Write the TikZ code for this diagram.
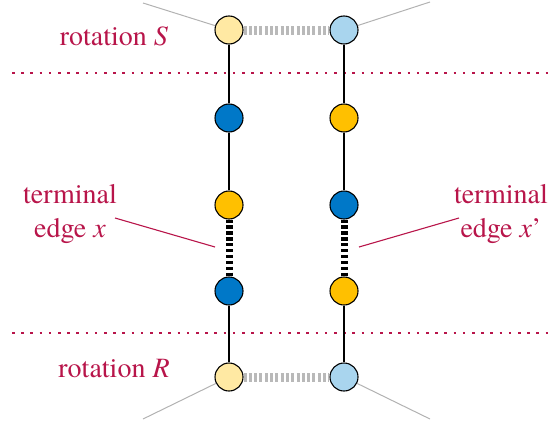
\documentclass[tikz,border=0pt]{standalone}
\usepackage{fontspec}
\setmainfont{TeX Gyre Termes}
\begin{document}
\begin{tikzpicture}[x=1pt,y=-1pt,
  vtx/.style={circle,draw=black,line width=1.1pt,minimum size=28pt,inner sep=0pt},
  ly/.style={vtx,fill=lyellow}, lb/.style={vtx,fill=lblue},
  db/.style={vtx,fill=dblue}, gd/.style={vtx,fill=gold},
  lab/.style={text=crim,font=\fontsize{28}{34}\selectfont,align=center,inner sep=0pt},
  sep/.style={crim,line width=2.6pt,dash pattern=on 2.6pt off 6.6pt},
  term/.style={black,line width=7pt,dash pattern=on 3.3pt off 2.6pt},
  rot/.style={gray!55,line width=9pt,dash pattern=on 3pt off 2.3pt},
  leg/.style={gray!60,line width=1pt}]
\definecolor{lyellow}{HTML}{FFE9A3}
\definecolor{lblue}{HTML}{A9D5EE}
\definecolor{dblue}{HTML}{0078C8}
\definecolor{gold}{HTML}{FFC000}
\definecolor{crim}{HTML}{B8154A}
\useasboundingbox (0,0) rectangle (548,423);
% dotted separators
\coordinate (s1a) at (12,73); \coordinate (s1b) at (548,73);
\coordinate (s2a) at (12,333); \coordinate (s2b) at (548,333);
\draw[sep] (s1a) -- (s1b);
\draw[sep] (s2a) -- (s2b);
% nodes
\node[ly] (a1) at (229,30) {};
\node[db] (a2) at (229,118) {};
\node[gd] (a3) at (229,205) {};
\node[db] (a4) at (229,291) {};
\node[ly] (a5) at (229,377) {};
\node[lb] (b1) at (344,30) {};
\node[gd] (b2) at (344,118) {};
\node[db] (b3) at (344,205) {};
\node[gd] (b4) at (344,291) {};
\node[lb] (b5) at (344,377) {};
% legs
\coordinate (ta) at (143,3); \coordinate (tb) at (430,2);
\coordinate (ba) at (143,419); \coordinate (bb) at (430,419);
\draw[leg] (ta) -- (a1); \draw[leg] (b1) -- (tb);
\draw[leg] (ba) -- (a5); \draw[leg] (b5) -- (bb);
% chains
\draw[line width=1.1pt] (a1) -- (a2) -- (a3);
\draw[line width=1.1pt] (a4) -- (a5);
\draw[line width=1.1pt] (b1) -- (b2) -- (b3);
\draw[line width=1.1pt] (b4) -- (b5);
\draw[term] (a3) -- (a4);
\draw[term] (b3) -- (b4);
\draw[rot] (a1) -- (b1);
\draw[rot] (a5) -- (b5);
% labels
\node[lab,anchor=base] (rs) at (114,45) {rotation \textit{S}};
\node[lab,anchor=base] (rr) at (114,377) {rotation \textit{R}};
\node[lab,anchor=base] (tx) at (70,237) {terminal\\edge \textit{x}};
\node[lab,anchor=base] (txp) at (501,237) {terminal\\edge \textit{x}’};
\coordinate (lx1) at (115,218); \coordinate (lx2) at (215,247);
\coordinate (ly1) at (459,218); \coordinate (ly2) at (359,247);
\draw[crim,line width=1.1pt] (lx1) -- (lx2);
\draw[crim,line width=1.1pt] (ly1) -- (ly2);
\end{tikzpicture}
\end{document}
